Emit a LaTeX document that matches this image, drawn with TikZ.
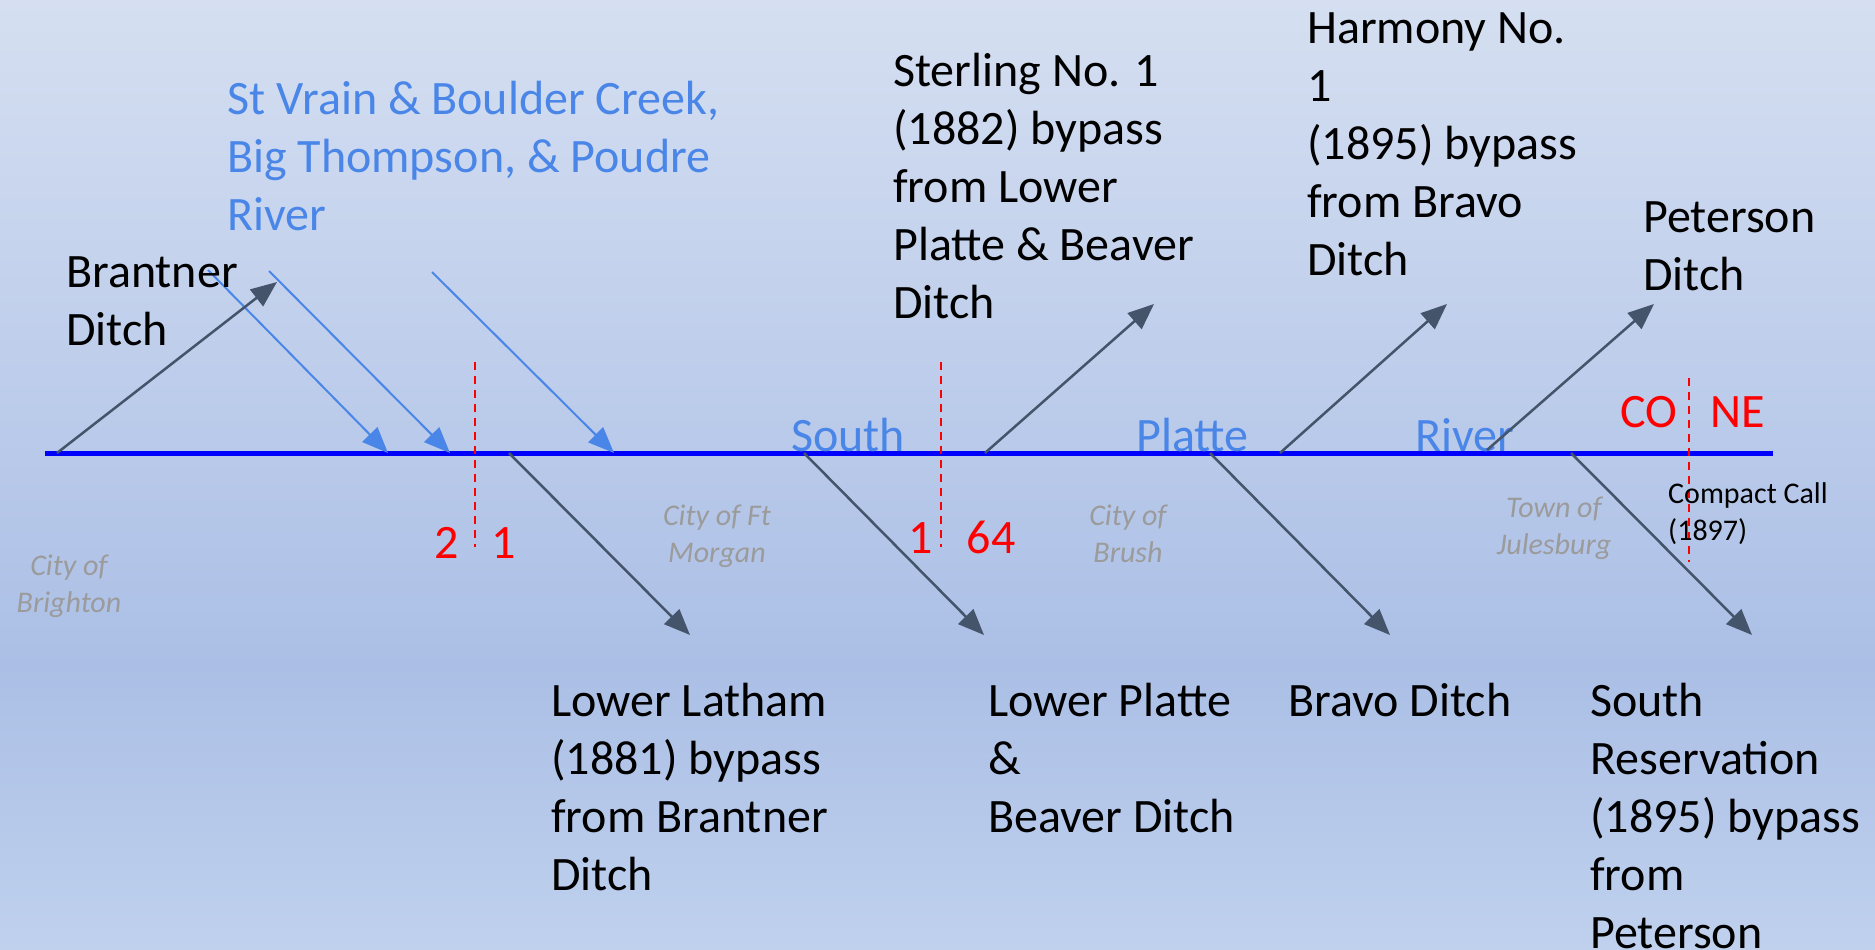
\documentclass[tikz,border=0pt]{standalone}
\usepackage{fontspec}
\setmainfont{Carlito}
\usetikzlibrary{arrows.meta}
\definecolor{bgtop}{RGB}{213,223,241}
\definecolor{bgmid}{RGB}{171,191,230}
\definecolor{bgbot}{RGB}{191,209,237}
\definecolor{slate}{RGB}{68,84,106}
\definecolor{lblue}{RGB}{74,134,232}
\definecolor{riverblue}{RGB}{0,0,255}
\definecolor{cityg}{RGB}{155,155,155}
\tikzset{
  big/.style={font=\fontsize{48}{58}\selectfont, align=left, inner sep=0pt, anchor=north west},
  small/.style={font=\fontsize{30}{37}\selectfont, align=center, inner sep=0pt, anchor=north},
  city/.style={small, font=\fontsize{30}{37}\selectfont\itshape, text=cityg},
  redlbl/.style={font=\fontsize{48}{58}\selectfont, text=red, inner sep=0pt, anchor=base},
  rivlbl/.style={font=\fontsize{48}{58}\selectfont, text=lblue, inner sep=0pt, anchor=base west},
  darrow/.style={draw=slate, line width=2.5pt, -{Triangle[length=26pt,width=21pt]}},
  barrow/.style={draw=lblue, line width=2pt, -{Triangle[length=26pt,width=21pt]}},
  border/.style={draw=red, line width=2pt, dash pattern=on 8pt off 6pt},
}
\begin{document}
\begin{tikzpicture}[x=1pt,y=-1pt]
\useasboundingbox (0,0) rectangle (1875,950);
% background
\shade[top color=bgtop, bottom color=bgmid] (0,0) rectangle (1875,666);
\shade[top color=bgmid, bottom color=bgbot] (0,665) rectangle (1875,950);

% river
\coordinate (riverW) at (45,453);
\coordinate (riverE) at (1773,453);
\draw[riverblue, line width=5pt] (riverW) -- (riverE);

% river labels
\node[rivlbl] (lsouth) at (791,451) {South};
\node[rivlbl] (lplatte) at (1136,451) {Platte};
\node[rivlbl] (lriver) at (1415,451) {River};

% state / district borders
\coordinate (b1t) at (475,362); \coordinate (b1b) at (475,547);
\coordinate (b2t) at (941,362); \coordinate (b2b) at (941,547);
\coordinate (b3t) at (1689,378); \coordinate (b3b) at (1689,562);
\draw[border] (b1t) -- (b1b);
\draw[border] (b2t) -- (b2b);
\draw[border] (b3t) -- (b3b);
\node[redlbl] (n2) at (447,558) {2};
\node[redlbl] (n1a) at (504,558) {1};
\node[redlbl] (n1b) at (921,553) {1};
\node[redlbl] (n64) at (991,553) {64};
\node[redlbl] (nco) at (1649,427) {CO};
\node[redlbl] (nne) at (1738,427) {NE};

% tributary arrows (blue)
\coordinate (t1s) at (208,270); \coordinate (t1e) at (388,453);
\coordinate (t2s) at (269,271); \coordinate (t2e) at (450,453);
\coordinate (t3s) at (432,272); \coordinate (t3e) at (614,453);
\draw[barrow] (t1s) -- (t1e);
\draw[barrow] (t2s) -- (t2e);
\draw[barrow] (t3s) -- (t3e);

% ditch arrows
\coordinate (a1s) at (57,453);   \coordinate (a1e) at (277,282);
\coordinate (a2s) at (509,453);  \coordinate (a2e) at (690,635);
\coordinate (a3s) at (804,453);  \coordinate (a3e) at (984,635);
\coordinate (a4s) at (985,453);  \coordinate (a4e) at (1154,304);
\coordinate (a5s) at (1210,453); \coordinate (a5e) at (1390,635);
\coordinate (a6s) at (1280,453); \coordinate (a6e) at (1447,304);
\coordinate (a7s) at (1487,450); \coordinate (a7e) at (1654,304);
\coordinate (a8s) at (1571,453); \coordinate (a8e) at (1752,635);
\draw[darrow] (a1s) -- (a1e);
\draw[darrow] (a2s) -- (a2e);
\draw[darrow] (a3s) -- (a3e);
\draw[darrow] (a4s) -- (a4e);
\draw[darrow] (a5s) -- (a5e);
\draw[darrow] (a6s) -- (a6e);
\draw[darrow] (a7s) -- (a7e);
\draw[darrow] (a8s) -- (a8e);

% big labels (first baseline = y + 40.6)
\node[big] (brantner) at (66,247) {\strut Brantner\\Ditch};
\node[big, text=lblue] (trib) at (227,74) {\strut St Vrain \& Boulder Creek,\\Big Thompson, \& Poudre\\River};
\node[big] (sterling) at (893,46) {\strut Sterling No. 1\\(1882) bypass\\from Lower\\Platte \& Beaver\\Ditch};
\node[big] (harmony) at (1307,3) {\strut Harmony No.\\1\\(1895) bypass\\from Bravo\\Ditch};
\node[big] (peterson) at (1643,192) {\strut Peterson\\Ditch};
\node[big] (latham) at (551,676) {\strut Lower Latham\\(1881) bypass\\from Brantner\\Ditch};
\node[big] (lplat) at (988,676) {\strut Lower Platte\\\&\\Beaver Ditch};
\node[big] (bravo) at (1288,676) {\strut Bravo Ditch};
\node[big] (southres) at (1590,676) {\strut South\\Reservation\\(1895) bypass\\from\\Peterson};

% towns
\node[city] (brighton) at (69,549) {\strut City of\\Brighton};
\node[city] (ftmorgan) at (717,499) {\strut City of Ft\\Morgan};
\node[city] (brush) at (1128,499) {\strut City of\\Brush};
\node[city] (julesburg) at (1554,491) {\strut Town of\\Julesburg};
\node[small, anchor=north west, align=left] (compact) at (1668,477) {\strut Compact Call\\(1897)};
\end{tikzpicture}
\end{document}
